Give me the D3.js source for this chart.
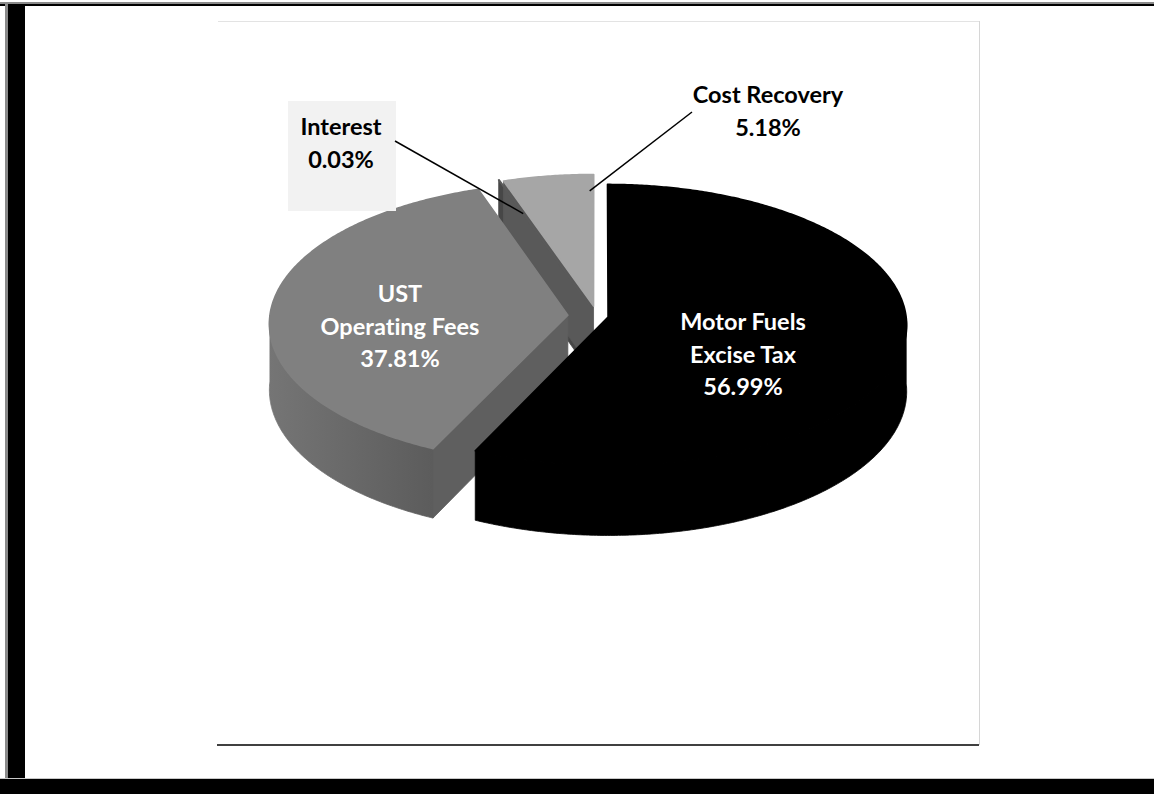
<!DOCTYPE html>
<html>
<head>
<meta charset="utf-8">
<script src="https://cdn.jsdelivr.net/npm/d3@7"></script>
<style>
  body { margin: 0; background: #fff; }
  svg { display: block; }
  text { font-family: Lato, "Liberation Sans", sans-serif; font-weight: bold; font-variant-ligatures: none; }
</style>
</head>
<body>
<div id="chart"></div>
<script>
// data
var categories = ["Motor Fuels Excise Tax", "UST Operating Fees", "Interest", "Cost Recovery"];
var labelLines = [["Motor Fuels", "Excise Tax"], ["UST", "Operating Fees"], ["Interest"], ["Cost Recovery"]];
var values = [56.99, 37.81, 0.03, 5.18];

// styles / layout
var topColors = ["#000000", "#808080", "#5a5a5a", "#a6a6a6"];
var cutColors = ["#000000", "#5f5f5f", "#474747", "#595959"];
var wallColors = [["#000000", "#000000"], ["#757575", "#5c5c5c"], ["#474747", "#474747"], ["#595959", "#595959"]];
var explode = [0.038, 0.098, 0.085, 0.072];
var labelPos = [[743, 330, "#fff"], [400, 302, "#fff"], [341, 135, "#000"], [768, 103, "#000"]];
var lineStep = 32.5;

var cx0 = 597, cy0 = 316, RX = 298, RY = 140, DEPTH = 66, PERSP = 18;

var svg = d3.select("#chart").append("svg")
    .attr("width", 1154)
    .attr("height", 794);
var defs = svg.append("defs");

// outer frame
svg.append("rect").attr("x", 0).attr("y", 2).attr("width", 1154).attr("height", 2).attr("fill", "#8a8a8a");
svg.append("rect").attr("x", 0).attr("y", 4).attr("width", 1154).attr("height", 2).attr("fill", "#000");
svg.append("rect").attr("x", 5).attr("y", 2).attr("width", 3).attr("height", 777).attr("fill", "#8a8a8a");
svg.append("rect").attr("x", 8).attr("y", 4).attr("width", 17).attr("height", 775).attr("fill", "#000");
svg.append("rect").attr("x", 0).attr("y", 778).attr("width", 1154).attr("height", 1).attr("fill", "#c8c8c8");
svg.append("rect").attr("x", 0).attr("y", 779).attr("width", 1154).attr("height", 15).attr("fill", "#000");

// chart area border
svg.append("line").attr("x1", 218).attr("y1", 21.5).attr("x2", 979).attr("y2", 21.5)
    .attr("stroke", "#e3e3e3").attr("stroke-width", 1);
svg.append("line").attr("x1", 979.5).attr("y1", 21).attr("x2", 979.5).attr("y2", 745)
    .attr("stroke", "#d6d6d6").attr("stroke-width", 1);
svg.append("line").attr("x1", 217).attr("y1", 745).attr("x2", 979).attr("y2", 745)
    .attr("stroke", "#000").attr("stroke-width", 1.5);

// pie geometry
var arcs = d3.pie().sort(null).value(function (d) { return d; })(values);
var slices = arcs.map(function (a, i) {
    var mid = (a.startAngle + a.endAngle) / 2;
    return {
        i: i, a0: a.startAngle, a1: a.endAngle, mid: mid,
        ex: explode[i] * Math.sin(mid), ez: -explode[i] * Math.cos(mid)
    };
});

function proj(X, Z, h) {
    var k = PERSP / (PERSP - Z);
    return [cx0 + RX * X * k, cy0 + (RY * Z + DEPTH * h) * k];
}
function pt(s, a, r, h) {
    return proj(s.ex + r * Math.sin(a), s.ez - r * Math.cos(a), h);
}
function arcPts(s, a0, a1, h) {
    var n = Math.max(1, Math.ceil((a1 - a0) / (Math.PI / 360)));
    var p = [];
    for (var j = 0; j <= n; j++) p.push(pt(s, a0 + (a1 - a0) * j / n, 1, h));
    return p;
}
var poly = function (pts) { return d3.line()(pts) + "Z"; };

var faces = [];
slices.forEach(function (s) {
    // radial cut faces
    [[s.a0, -Math.PI / 2], [s.a1, Math.PI / 2]].forEach(function (f) {
        var nz = -Math.cos(f[0] + f[1]);
        if (nz <= 0.01) return;
        faces.push({
            z: s.ez - 0.5 * Math.cos(f[0]),
            d: poly([pt(s, 0, 0, 0), pt(s, f[0], 1, 0), pt(s, f[0], 1, 1), pt(s, 0, 0, 1)]),
            fill: cutColors[s.i], stroke: cutColors[s.i]
        });
    });
    // outer wall, front half only
    var lo = Math.max(s.a0, Math.PI / 2), hi = Math.min(s.a1, 3 * Math.PI / 2);
    if (hi > lo) {
        var wc = wallColors[s.i], fill = wc[0];
        if (wc[0] !== wc[1]) {
            var gid = "wall" + s.i;
            var lg = defs.append("linearGradient").attr("id", gid)
                .attr("x1", 0).attr("y1", 0).attr("x2", 1).attr("y2", 0);
            lg.append("stop").attr("offset", "0%").attr("stop-color", wc[0]);
            lg.append("stop").attr("offset", "100%").attr("stop-color", wc[1]);
            fill = "url(#" + gid + ")";
        }
        var top = arcPts(s, lo, hi, 0), bot = arcPts(s, lo, hi, 1).reverse();
        faces.push({
            z: s.ez - Math.cos((lo + hi) / 2),
            d: poly(top.concat(bot)),
            fill: fill, stroke: fill
        });
    }
});
faces.sort(function (a, b) { return a.z - b.z; });

var g = svg.append("g");
g.selectAll("path.side")
    .data(faces)
    .enter()
    .append("path")
    .attr("class", "side")
    .attr("d", function (d) { return d.d; })
    .attr("fill", function (d) { return d.fill; })
    .attr("stroke", function (d) { return d.stroke; })
    .attr("stroke-width", 0.8)
    .attr("stroke-linejoin", "round");

g.selectAll("path.top")
    .data(slices)
    .enter()
    .append("path")
    .attr("class", "top")
    .attr("d", function (s) { return poly([pt(s, 0, 0, 0)].concat(arcPts(s, s.a0, s.a1, 0))); })
    .attr("fill", function (s) { return topColors[s.i]; })
    .attr("stroke", function (s) { return topColors[s.i]; })
    .attr("stroke-width", 1.6)
    .attr("stroke-linejoin", "round");

// Interest label box
svg.append("rect").attr("x", 288).attr("y", 101).attr("width", 108).attr("height", 110).attr("fill", "#f2f2f2");

// leader lines: [label end x, y, slice index, fraction of slice span, radius]
var leaders = [[395, 141, 2, 0.5, 0.72], [692, 112, 3, 0.95, 0.87]];
leaders.forEach(function (l) {
    var s = slices[l[2]];
    var p = pt(s, s.a0 + (s.a1 - s.a0) * l[3], l[4], 0);
    svg.append("line")
        .attr("x1", l[0]).attr("y1", l[1]).attr("x2", p[0]).attr("y2", p[1])
        .attr("stroke", "#000").attr("stroke-width", 1.5);
});

// labels
var fmt = d3.format(".2f");
categories.forEach(function (c, i) {
    var lines = labelLines[i].concat([fmt(values[i]) + "%"]);
    var t = svg.append("text")
        .attr("text-anchor", "middle")
        .attr("fill", labelPos[i][2])
        .style("font-size", "23.5px");
    lines.forEach(function (ln, k) {
        t.append("tspan").attr("x", labelPos[i][0]).attr("y", labelPos[i][1] + k * lineStep).text(ln);
    });
});
</script>
</body>
</html>
